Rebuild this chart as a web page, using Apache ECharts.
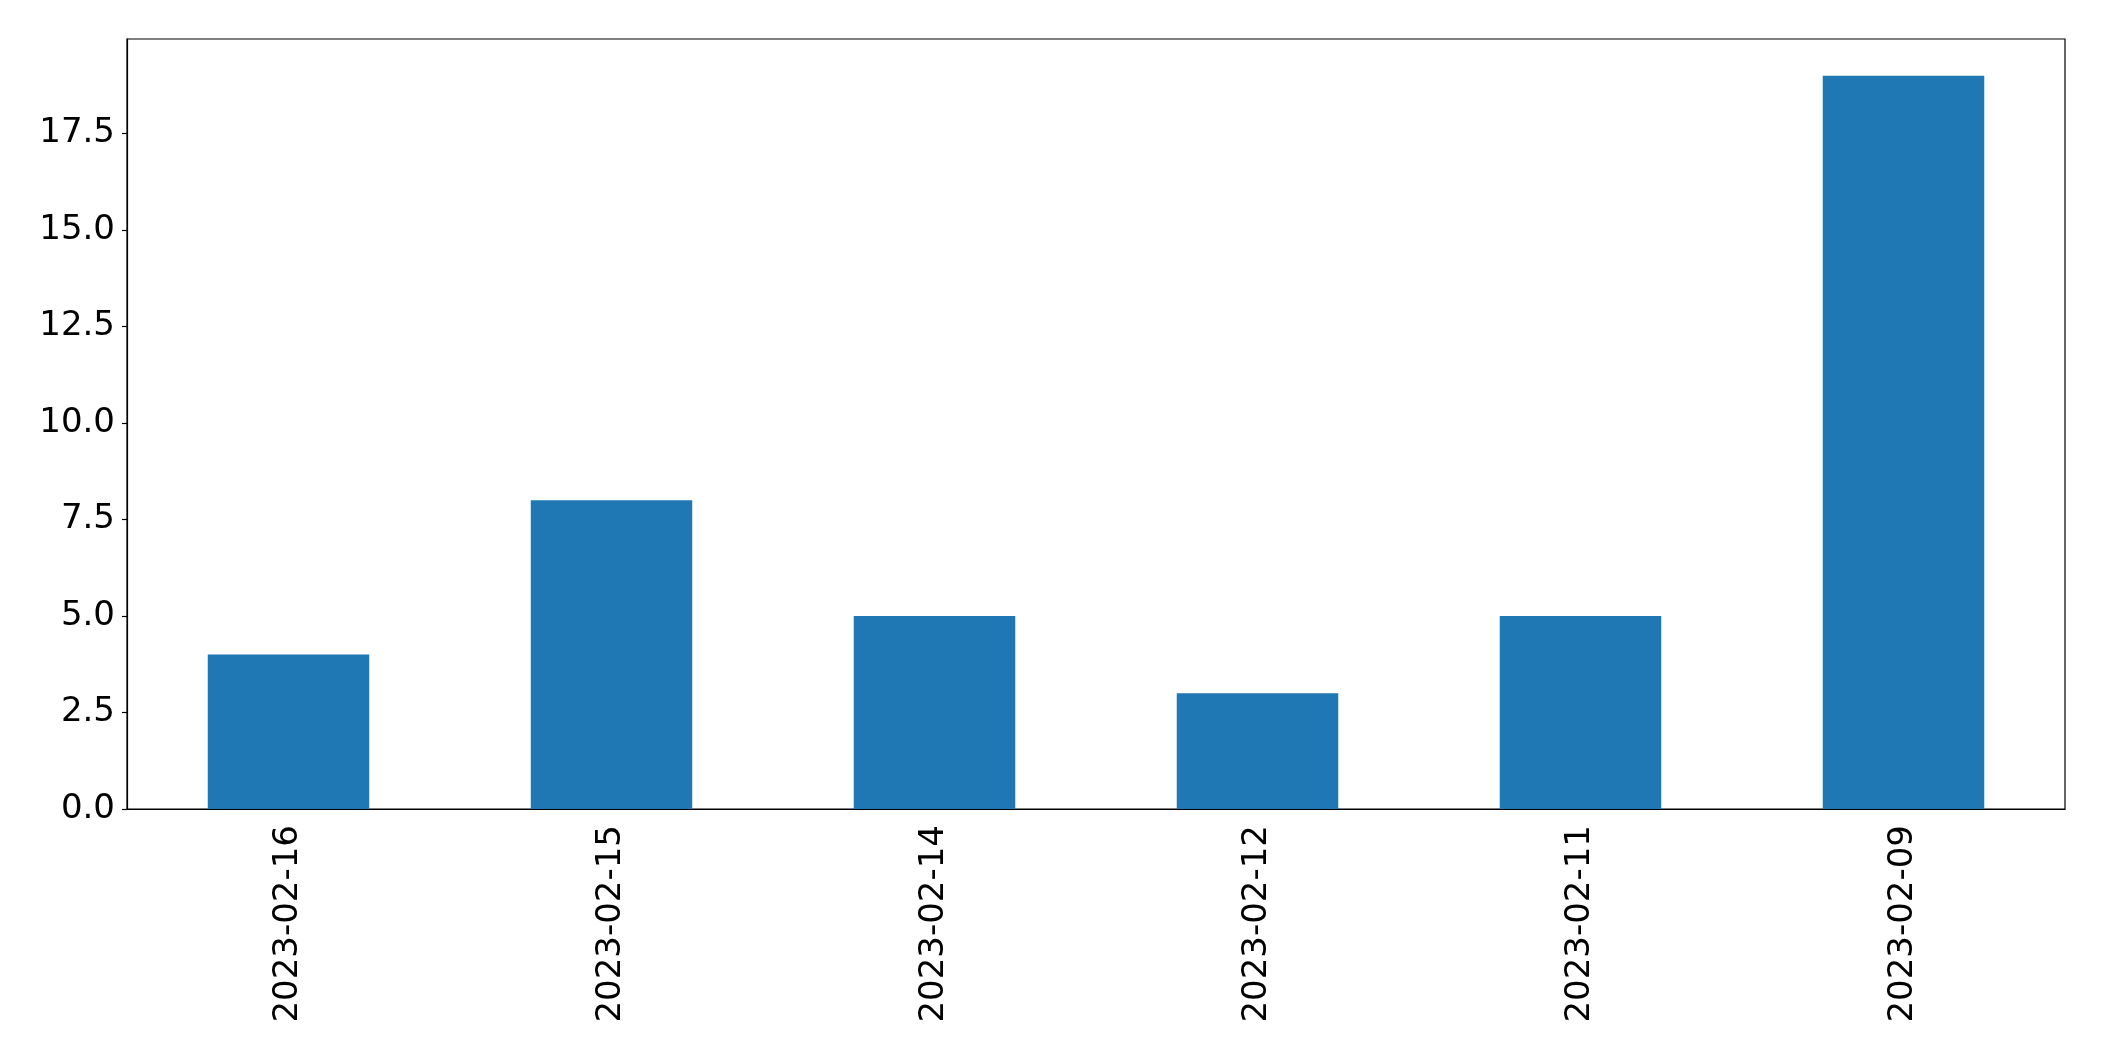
<!DOCTYPE html>
<html>
<head>
<meta charset="utf-8">
<script src="https://cdn.jsdelivr.net/npm/echarts@6/dist/echarts.min.js"></script>
<style>html,body{margin:0;padding:0;background:#fff;}#c{width:2104px;height:1061px;}</style>
</head>
<body>
<div id="c"></div>
<script>
const categories = ['2023-02-16','2023-02-15','2023-02-14','2023-02-12','2023-02-11','2023-02-09'];
const values = [4, 8, 5, 3, 5, 19];
const yTicks = [0, 2.5, 5, 7.5, 10, 12.5, 15, 17.5];
const yMax = 19.95;

const chart = echarts.init(document.getElementById('c'), null, {renderer: 'canvas'});
const font = 'DejaVu Sans';
chart.setOption({
  animation: false,
  backgroundColor: '#ffffff',
  grid: {left: 127, right: 39, top: 39, bottom: 252, show: true, borderColor: '#000', borderWidth: 1.2, backgroundColor: 'transparent'},
  xAxis: {
    type: 'category',
    data: categories,
    boundaryGap: true,
    axisLine: {lineStyle: {color: '#000', width: 1.2}},
    axisTick: {alignWithLabel: true, length: 5, lineStyle: {color: '#000', width: 1.2}},
    axisLabel: {rotate: 90, margin: 16, fontSize: 34, fontFamily: font, color: '#000', interval: 0},
    splitLine: {show: false}
  },
  yAxis: {
    type: 'value',
    min: 0,
    max: yMax,
    axisLine: {show: true, lineStyle: {color: '#000', width: 1.2}},
    axisTick: {show: true, length: 5, customValues: yTicks, lineStyle: {color: '#000', width: 1.2}},
    axisLabel: {margin: 12, fontSize: 34, fontFamily: font, color: '#000', customValues: yTicks,
      formatter: v => Number(v).toFixed(1)},
    splitLine: {show: false}
  },
  series: [{
    type: 'bar',
    data: values,
    barWidth: '50%',
    itemStyle: {color: '#1f77b4'}
  }]
});
</script>
</body>
</html>
